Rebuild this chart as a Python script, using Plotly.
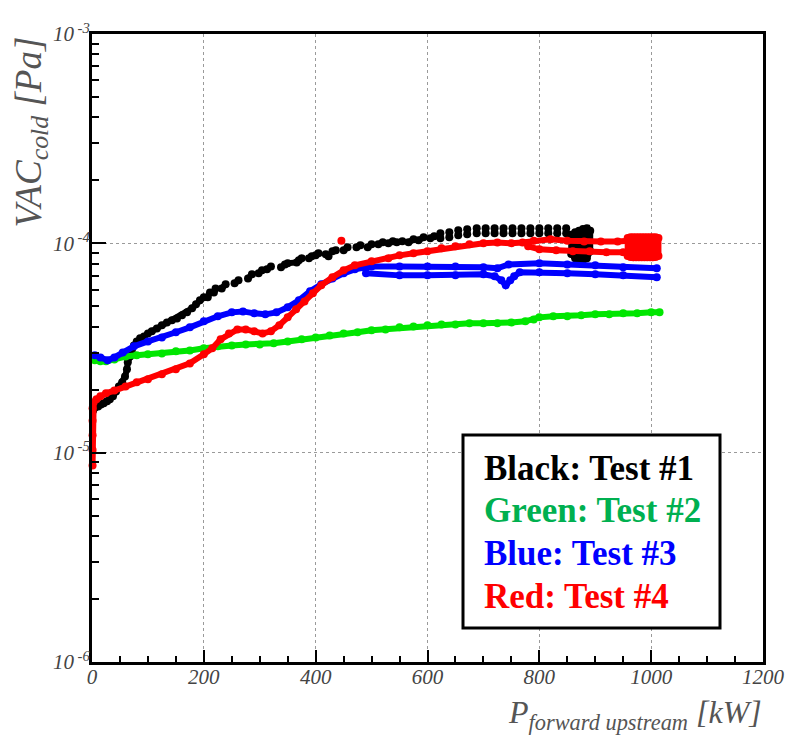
import plotly.graph_objects as go

# ---------------- data: cold vacuum pressure vs forward power ----------------
# Test #1 (black) - continuous start, then short dashes (None separates pieces)
black_kw = [2, 5, 11, 16, 21, 27, 32, 37.5, 43, 48, 54, 59, 62.5, 64, 68, 71, 75, 80, 86, 93,
            100, 107, 116, 125, 134, 143, 152, 161, 170, 179, 186, 193, 200, None,
            207, 211, None, 218, 221, None, 232, 239, None, 255, 262, None, 279, 286, None,
            298, 304, None, 313, 320, None, 338, 345, None, 350, 366, None, 370, 375, None,
            388, 393, None, 400, 405, None, 418, 423, None, 430, 436, None, 450, 457, None,
            473, 480, None, 493, 500, None, 512, 520, None, 530, 538, None, 545, 555, None,
            566, 575, None, 584, 593, None, 605, 612, None,
            623, 623, None, 639, 639, None, 655, 655, None, 671, 671, None, 688, 688, None,
            704, 704, None, 720, 720, None, 736, 736, None, 752, 752, None, 768, 768, None,
            784, 784, None, 800, 800, None, 816, 816, None, 832, 832, None, 848, 848, None,
            857, 857, 864, 864, 871, 871, 878, 878, 885, 885, 891, 891]
black_pa = [1.59e-5, 1.64e-5, 1.66e-5, 1.70e-5, 1.72e-5, 1.76e-5, 1.80e-5, 1.86e-5, 1.96e-5, 2.07e-5,
            2.17e-5, 2.31e-5, 2.50e-5, 2.70e-5, 2.88e-5, 3.08e-5, 3.25e-5, 3.40e-5, 3.52e-5, 3.59e-5,
            3.71e-5, 3.80e-5, 3.92e-5, 4.06e-5, 4.19e-5, 4.29e-5, 4.38e-5, 4.53e-5, 4.68e-5, 4.89e-5,
            5.11e-5, 5.34e-5, 5.52e-5, None,
            5.52e-5, 5.83e-5, None, 5.83e-5, 6.09e-5, None, 6.09e-5, 6.37e-5, None, 6.44e-5, 6.66e-5, None,
            6.80e-5, 7.11e-5, None, 7.19e-5, 7.43e-5, None, 7.51e-5, 7.76e-5, None, 7.68e-5, 7.93e-5, None,
            8.03e-5, 8.11e-5, None, 8.30e-5, 8.48e-5, None, 8.48e-5, 8.67e-5, None, 8.76e-5, 8.96e-5, None,
            8.86e-5, 8.67e-5, None, 9.16e-5, 9.26e-5, None, 9.26e-5, 9.57e-5, None, 9.57e-5, 9.78e-5, None,
            9.57e-5, 9.89e-5, None, 9.89e-5, 1.011e-4, None, 1.00e-4, 1.022e-4, None, 1.011e-4, 1.022e-4, None,
            1.011e-4, 1.045e-4, None, 1.034e-4, 1.068e-4, None, 1.057e-4, 1.080e-4, None,
            1.057e-4, 1.116e-4, None, 1.068e-4, 1.129e-4, None, 1.092e-4, 1.154e-4, None,
            1.104e-4, 1.167e-4, None, 1.116e-4, 1.179e-4, None,
            1.116e-4, 1.179e-4, None, 1.116e-4, 1.179e-4, None, 1.116e-4, 1.179e-4, None,
            1.116e-4, 1.179e-4, None, 1.116e-4, 1.179e-4, None, 1.116e-4, 1.179e-4, None,
            1.116e-4, 1.179e-4, None, 1.116e-4, 1.179e-4, None, 1.116e-4, 1.179e-4, None,
            1.116e-4, 1.179e-4, None,
            1.10e-4, 8.9e-5, 8.48e-5, 1.13e-4, 1.15e-4, 8.3e-5, 8.3e-5, 1.17e-4, 1.18e-4, 8.48e-5,
            9.16e-5, 1.15e-4]

# Test #2 (green)
green_kw = [5, 15, 25, 40, 60, 80, 100, 125, 150, 175, 200, 225, 250, 275, 300, 325, 350, 375, 400,
            425, 450, 475, 500, 525, 550, 575, 600, 625, 650, 675, 700, 725, 750, 775, 790, 800,
            825, 850, 875, 900, 925, 950, 975, 1000, 1015]
green_pa = [2.76e-5, 2.73e-5, 2.73e-5, 2.79e-5, 2.88e-5, 2.92e-5, 2.95e-5, 2.98e-5, 3.05e-5, 3.08e-5,
            3.15e-5, 3.22e-5, 3.25e-5, 3.29e-5, 3.29e-5, 3.33e-5, 3.40e-5, 3.48e-5, 3.55e-5, 3.63e-5,
            3.71e-5, 3.76e-5, 3.84e-5, 3.88e-5, 3.97e-5, 4.01e-5, 4.06e-5, 4.10e-5, 4.10e-5, 4.15e-5,
            4.15e-5, 4.15e-5, 4.19e-5, 4.24e-5, 4.33e-5, 4.43e-5, 4.48e-5, 4.48e-5, 4.53e-5, 4.58e-5,
            4.58e-5, 4.63e-5, 4.63e-5, 4.68e-5, 4.68e-5]

# Test #3 (blue) - upper track, then lower track
blue_kw = [5, 15, 28, 40, 55, 75, 100, 125, 150, 175, 200, 225, 250, 270, 290, 310, 330, 350, 370,
           390, 410, 430, 450, 470, 490, 500, 550, 600, 650, 700, 725, 745, 800, 850, 900, 950, 1010,
           None,
           490, 550, 600, 650, 700, 720, 732, 740, 748, 755, 765, 800, 850, 900, 950, 1010]
blue_pa = [2.92e-5, 2.85e-5, 2.76e-5, 2.85e-5, 3.01e-5, 3.22e-5, 3.40e-5, 3.55e-5, 3.76e-5, 3.97e-5,
           4.24e-5, 4.48e-5, 4.68e-5, 4.73e-5, 4.63e-5, 4.58e-5, 4.68e-5, 4.95e-5, 5.34e-5, 5.90e-5,
           6.37e-5, 6.80e-5, 7.19e-5, 7.51e-5, 7.68e-5, 7.76e-5, 7.76e-5, 7.76e-5, 7.76e-5, 7.68e-5,
           7.60e-5, 7.93e-5, 8.03e-5, 7.93e-5, 7.85e-5, 7.68e-5, 7.60e-5,
           None,
           7.19e-5, 7.03e-5, 7.03e-5, 7.03e-5, 7.11e-5, 6.96e-5, 6.66e-5, 6.30e-5, 6.66e-5, 6.96e-5,
           7.27e-5, 7.27e-5, 7.19e-5, 7.11e-5, 7.03e-5, 6.88e-5]

# Test #4 (red) - main track, lower track at high power, end cluster, one stray point
red_kw = [1, 1, 1, 1, 1, 3, 8, 15, 25, 40, 60, 80, 100, 125, 150, 175, 200, 215, 230, 245, 260, 275,
          290, 305, 320, 335, 350, 365, 380, 395, 410, 430, 450, 470, 500, 530, 550, 575, 600, 625,
          650, 675, 700, 725, 750, 770, 790, 820, 850, 880, 910, 940, 970, 1000, 1010,
          None,
          780, 800, 830, 860, 890, 920, 950, 980, 1000, 1010,
          None,
          958, 958, 963, 963, 968, 968, 973, 973, 978, 978, 983, 983, 988, 988, 993, 993,
          998, 998, 1003, 1003, 1008, 1008, 1013, 1013,
          None,
          446]
red_pa = [8.69e-6, 1.03e-5, 1.21e-5, 1.42e-5, 1.63e-5, 1.74e-5, 1.80e-5, 1.86e-5, 1.92e-5, 1.98e-5,
          2.07e-5, 2.17e-5, 2.24e-5, 2.37e-5, 2.50e-5, 2.67e-5, 2.95e-5, 3.15e-5, 3.48e-5, 3.71e-5,
          3.88e-5, 3.88e-5, 3.80e-5, 3.71e-5, 3.80e-5, 4.06e-5, 4.43e-5, 4.84e-5, 5.28e-5, 5.77e-5,
          6.30e-5, 6.88e-5, 7.43e-5, 7.85e-5, 8.20e-5, 8.48e-5, 8.76e-5, 8.96e-5, 9.16e-5, 9.47e-5,
          9.68e-5, 9.89e-5, 1.00e-4, 1.01e-4, 1.00e-4, 1.01e-4, 1.03e-4, 1.045e-4, 1.03e-4, 1.02e-4,
          1.02e-4, 1.02e-4, 1.03e-4, 1.045e-4, 1.03e-4,
          None,
          9.68e-5, 9.36e-5, 9.26e-5, 9.16e-5, 9.16e-5, 9.06e-5, 9.06e-5, 8.96e-5, 8.96e-5, 8.86e-5,
          None,
          1.06e-4, 8.7e-5, 8.6e-5, 1.068e-4, 1.068e-4, 8.57e-5, 8.57e-5, 1.068e-4, 1.068e-4, 8.57e-5,
          8.57e-5, 1.068e-4, 1.068e-4, 8.57e-5, 8.57e-5, 1.068e-4, 1.068e-4, 8.57e-5, 8.57e-5, 1.068e-4,
          1.068e-4, 8.6e-5, 8.7e-5, 1.06e-4,
          None,
          1.03e-4]

x_ticks = [0, 200, 400, 600, 800, 1000, 1200]
y_ticks = [1e-6, 1e-5, 1e-4, 1e-3]
y_tick_text = ["10<sup>&#160;-6</sup>", "10<sup>&#160;-5</sup>",
               "10<sup>&#160;-4</sup>", "10<sup>&#160;-3</sup>"]

legend_lines = ["Black: Test #1", "Green: Test #2", "Blue: Test #3", "Red: Test #4"]
legend_colors = ["#000000", "#00b050", "#0000ff", "#ff0000"]

# ---------------- figure ----------------
W, H = 790, 738
ML, MR, MT, MB = 92, 27, 34, 76
PW, PH = W - ML - MR, H - MT - MB


def fx(p):
    return (p - ML) / PW


def fy(p):
    return (H - MB - p) / PH


fig = go.Figure()
for kw, pa, col in [(black_kw, black_pa, "#000000"),
                    (green_kw, green_pa, "#00e600"),
                    (blue_kw, blue_pa, "#0000ff"),
                    (red_kw, red_pa, "#ff0000")]:
    fig.add_trace(go.Scatter(
        x=kw, y=pa, mode="lines+markers",
        line=dict(color=col, width=6),
        marker=dict(color=col, size=8),
        connectgaps=False, cliponaxis=False,
        showlegend=False, hoverinfo="skip"))

tick_font = dict(family="Liberation Serif", size=21, color="#444444", style="italic")
minor_y = [m * 10.0 ** e for e in (-6, -5, -4) for m in range(2, 10)]

fig.update_layout(
    width=W, height=H,
    margin=dict(l=ML, r=MR, t=MT, b=MB, autoexpand=False),
    paper_bgcolor="white", plot_bgcolor="white",
    xaxis=dict(range=[0, 1200], tickmode="array", tickvals=x_ticks, automargin=False,
               ticks="inside", ticklen=12, tickwidth=2, tickcolor="black",
               ticklabelstandoff=-6,
               showline=True, linewidth=3, linecolor="black", mirror=True,
               showgrid=True, gridcolor="#9a9a9a", gridwidth=1, griddash="dot",
               zeroline=False, tickfont=tick_font,
               minor=dict(ticks="inside", ticklen=6, tickwidth=1.5, tickcolor="black",
                          dtick=50, showgrid=False)),
    yaxis=dict(type="log", range=[-6, -3], tickmode="array", tickvals=y_ticks, automargin=False,
               ticktext=y_tick_text,
               ticks="inside", ticklen=14, tickwidth=2, tickcolor="black",
               ticklabelstandoff=-5,
               showline=True, linewidth=3, linecolor="black", mirror=True,
               showgrid=True, gridcolor="#9a9a9a", gridwidth=1, griddash="dot",
               zeroline=False, tickfont=tick_font,
               minor=dict(ticks="inside", ticklen=7, tickwidth=1.5, tickcolor="black",
                          tickmode="array", tickvals=minor_y, showgrid=False)),
)

# axis titles
fig.add_annotation(text="VAC<sub>cold</sub> [Pa]", textangle=-90,
                   xref="paper", yref="paper", x=fx(31), y=fy(35),
                   xanchor="center", yanchor="top", showarrow=False,
                   font=dict(family="Liberation Serif", size=37, color="#555555", style="italic"))
fig.add_annotation(text="P<sub>forward upstream</sub> [kW]",
                   xref="paper", yref="paper", x=fx(764), y=fy(737),
                   xanchor="right", yanchor="bottom", showarrow=False,
                   font=dict(family="Liberation Serif", size=32, color="#555555", style="italic"))

# boxed key
fig.add_shape(type="rect", xref="paper", yref="paper",
              x0=fx(463), x1=fx(720), y0=fy(628), y1=fy(435),
              line=dict(color="black", width=3), fillcolor="white", layer="above")
for i, (txt, col) in enumerate(zip(legend_lines, legend_colors)):
    fig.add_annotation(text=txt, xref="paper", yref="paper",
                       x=fx(482), y=fy(468 + i * 42.7), xanchor="left", yanchor="middle",
                       showarrow=False,
                       font=dict(family="Liberation Serif", size=35, color=col, weight="bold"))

fig.write_html("out.html")
